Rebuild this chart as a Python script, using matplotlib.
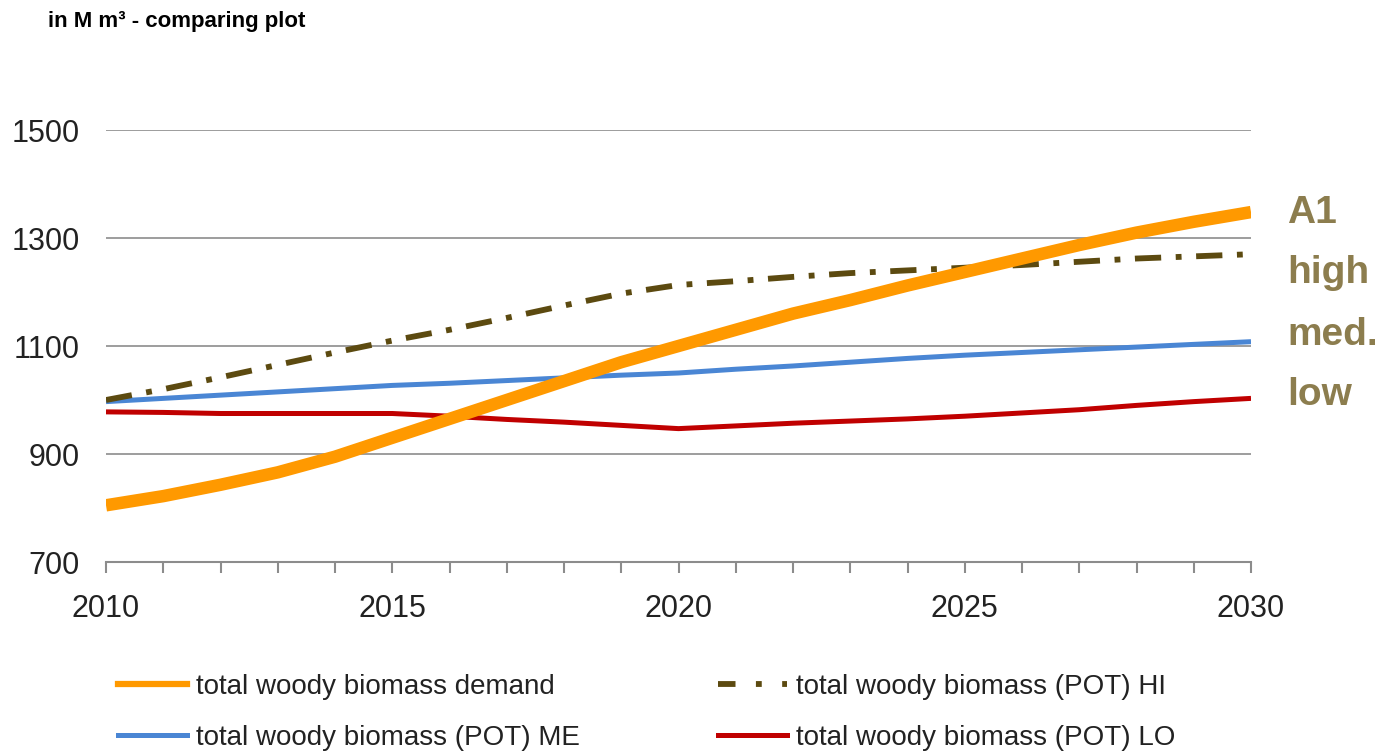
import numpy as np
import matplotlib.pyplot as plt
from matplotlib.lines import Line2D

plt.rcParams['font.family'] = ['Liberation Sans', 'DejaVu Sans']

years = list(range(2010, 2031))
demand = [805, 822, 843, 866, 895, 930, 965, 1000, 1035, 1070, 1100,
          1130, 1160, 1185, 1212, 1237, 1262, 1287, 1310, 1330, 1348]
pot_hi = [1000, 1020, 1042, 1065, 1088, 1110, 1130, 1152, 1175, 1197, 1213,
          1220, 1228, 1235, 1240, 1245, 1250, 1256, 1262, 1266, 1270]
pot_me = [997, 1003, 1009, 1015, 1021, 1027, 1031, 1036, 1041, 1046, 1050,
          1057, 1063, 1070, 1077, 1083, 1088, 1093, 1098, 1103, 1108]
pot_lo = [978, 977, 975, 975, 975, 975, 970, 964, 959, 953, 947,
          952, 957, 961, 965, 970, 976, 982, 990, 997, 1003]
labels = ["total woody biomass demand", "total woody biomass (POT) HI",
          "total woody biomass (POT) ME", "total woody biomass (POT) LO"]
side_labels = ["A1", "high", "med.", "low"]

fig = plt.figure(figsize=(13.86, 7.52), dpi=100)
ax = fig.add_axes([106/1386, 1-562/752, (1251-106)/1386, (562-130)/752])

ax.plot(years, pot_lo, color='#c00000', lw=3.6, solid_capstyle='butt', zorder=3)
ax.plot(years, pot_me, color='#4a86d4', lw=3.6, solid_capstyle='butt', zorder=3)
ax.plot(years, pot_hi, color='#5c4a10', lw=4.2, dashes=(4.5, 2.5, 1, 2.5),
        zorder=4)
ax.plot(years, demand, color='#ff9900', lw=9, solid_capstyle='butt', zorder=5)

ax.set_xlim(2010, 2030)
ax.set_ylim(700, 1500)
ax.set_yticks([700, 900, 1100, 1300, 1500])
ax.set_xticks(years)
ax.set_xticklabels([str(y) if y % 5 == 0 else '' for y in years])
ax.yaxis.grid(True, color='#8c8c8c', lw=1.2)
ax.set_axisbelow(True)
for s in ['top', 'right', 'left']:
    ax.spines[s].set_visible(False)
ax.spines['bottom'].set_color('#8c8c8c')
ax.spines['bottom'].set_linewidth(1.5)
ax.tick_params(axis='y', length=0, labelsize=22, labelcolor='#222222', pad=19)
ax.tick_params(axis='x', direction='out', length=8, width=1.5, color='#8c8c8c',
               labelsize=22, labelcolor='#222222', pad=15)

fig.text(48/1386, 1-21/752, "in M m³ - comparing plot", fontsize=16,
         fontweight='bold', va='center', ha='left')

for lab, ypx in zip(side_labels, [213, 273, 335, 395]):
    fig.text(1287/1386, 1-ypx/752, lab, fontsize=28, fontweight='bold',
             color='#8c7d4e', va='center', ha='left')

h_dem = Line2D([], [], color='#ff9900', lw=4.5)
h_hi = Line2D([], [], color='#5c4a10', lw=4.2, dashes=(3, 3.5, 1, 3.5))
h_me = Line2D([], [], color='#4a86d4', lw=3.6)
h_lo = Line2D([], [], color='#c00000', lw=3.6)

leg_kw = dict(loc='upper left', frameon=False, fontsize=20, borderpad=0,
              borderaxespad=0, handlelength=2.5, handletextpad=0.32,
              labelspacing=0.9, labelcolor='#222222')
leg1 = fig.legend([h_dem, h_me], [labels[0], labels[2]],
                  bbox_to_anchor=(118/1386, 1-674/752), **leg_kw)
leg2 = fig.legend([h_hi, h_lo], [labels[1], labels[3]],
                  bbox_to_anchor=(718/1386, 1-674/752), **leg_kw)

fig.savefig('out.png', dpi=100)
